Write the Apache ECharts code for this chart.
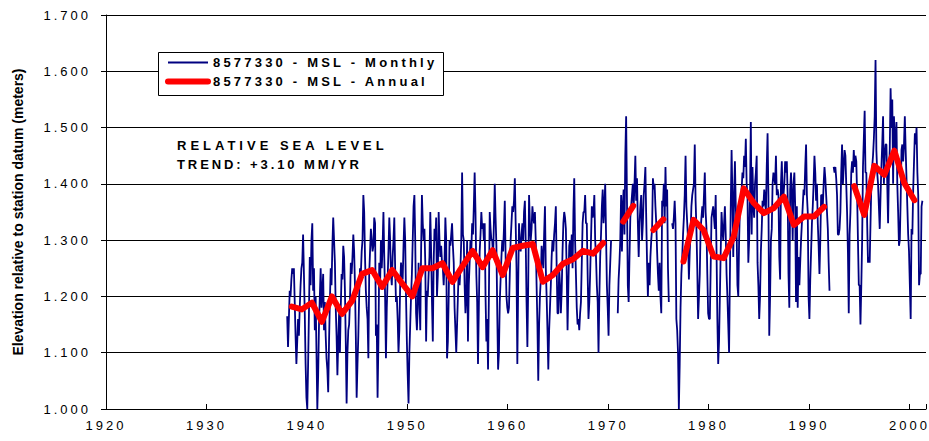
<!DOCTYPE html>
<html>
<head>
<meta charset="utf-8">
<title>8577330 - MSL</title>
<script src="https://cdn.jsdelivr.net/npm/echarts@6/dist/echarts.min.js"></script>
<style>
  html, body { margin: 0; padding: 0; background: #fff; }
  #main { width: 929px; height: 441px; }
</style>
</head>
<body>
<div id="main"></div>
<script>
// monthly MSL (m), 12 values per year from January; null = missing month
const mon1938 = [
  1.165, 1.11, 1.16, 1.21, 1.20, 1.23, 1.25, 1.24, 1.25, 1.19, 1.13, 1.08,
  1.12, 1.16, 1.13, 1.18, 1.22, 1.25, 1.26, 1.31, 1.24, 1.17, 1.08, 1.02,
  1.00, 1.08, 1.17, 1.27, 1.22, 1.30, 1.33, 1.21, 1.25, 1.14, 1.20, 1.10,
  1.00, 1.06, 1.15, 1.20, 1.25, 1.18, 1.21, 1.24, 1.14, 1.19, 1.13, 1.09,
  1.07, 1.03, 1.12, 1.19, 1.25, 1.22, 1.29, 1.34, 1.30, 1.26, 1.18, 1.13,
  1.06, 1.12, 1.17, 1.10, 1.18, 1.24, 1.23, 1.29, 1.27, 1.21, 1.12, 1.01,
  1.10, 1.14, 1.15, 1.19, 1.26, 1.24, 1.27, 1.31, 1.28, 1.22, 1.13, 1.02,
  1.08, 1.13, 1.20, 1.25, 1.24, 1.28, 1.30, 1.38, 1.35, 1.27, 1.21, 1.18,
  1.16, 1.09, 1.24, 1.28, 1.32, 1.30, 1.28, 1.29, 1.34, 1.33, 1.13, 1.15,
  1.02, 1.12, 1.26, 1.22, 1.30, 1.25, 1.29, 1.35, 1.27, 1.20, 1.09, 1.18,
  1.23, 1.28, 1.34, 1.30, 1.24, 1.22, 1.27, 1.30, 1.34, 1.25, 1.19, 1.20,
  1.16, 1.10, 1.14, 1.22, 1.26, 1.24, 1.23, 1.29, 1.34, 1.30, 1.20, 1.12
];
const mon1950 = [
  1.06, 1.01, 1.10, 1.15, 1.20, 1.24, 1.30, 1.36, 1.38, 1.30, 1.17, 1.14,
  1.18, 1.26, 1.20, 1.14, 1.28, 1.38, 1.33, 1.30, 1.32, 1.26, 1.12, 1.21,
  1.20, 1.24, 1.27, 1.35, 1.28, 1.19, 1.12, 1.26, 1.32, 1.30, 1.34, 1.20,
  1.24, 1.35, 1.30, 1.27, 1.29, 1.26, 1.25, 1.22, 1.26, 1.34, 1.30, 1.09,
  1.12, 1.20, 1.30, 1.29, 1.31, 1.33, 1.29, 1.26, 1.18, 1.14, 1.10, 1.15,
  1.20, 1.25, 1.22, 1.25, 1.30, 1.42, 1.31, 1.30, 1.22, 1.17, 1.20, 1.30,
  1.12, 1.22, 1.26, 1.30, 1.28, 1.33, 1.31, 1.36, 1.42, 1.35, 1.24, 1.19,
  1.08, 1.18, 1.28, 1.31, 1.35, 1.32, 1.33, 1.30, 1.33, 1.20, 1.12, 1.16,
  1.07, 1.20, 1.35, 1.32, 1.30, 1.30, 1.27, 1.33, 1.40, 1.34, 1.29, 1.17,
  1.07, 1.10, 1.19, 1.23, 1.27, 1.30, 1.28, 1.32, 1.37, 1.27, 1.20, 1.18
];
const mon1960 = [
  1.17, 1.18, 1.24, 1.30, 1.33, 1.36, 1.35, 1.37, 1.41, 1.33, 1.25, 1.08,
  1.22, 1.33, 1.29, 1.28, 1.31, 1.33, 1.30, 1.35, 1.37, 1.30, 1.19, 1.11,
  1.22, 1.38, 1.33, 1.30, 1.32, 1.36, 1.34, 1.33, 1.35, 1.30, 1.22, 1.15,
  1.05, 1.15, 1.20, 1.23, 1.29, 1.27, 1.25, 1.31, 1.36, 1.25, 1.20, 1.14,
  1.07, 1.14, 1.18, 1.22, 1.27, 1.30, 1.28, 1.31, 1.33, 1.36, 1.25, 1.17,
  1.17, 1.25, 1.22, 1.17, 1.21, 1.28, 1.33, 1.35, 1.34, 1.32, 1.24, 1.14,
  1.22, 1.29, 1.30, 1.27, 1.31, 1.25, 1.35, 1.41, 1.30, 1.24, 1.18, 1.15,
  1.16, 1.14, 1.17, 1.19, 1.26, 1.33, 1.35, 1.35, 1.38, 1.33, 1.33, 1.24,
  1.16, 1.19, 1.24, 1.30, 1.36, 1.34, 1.35, 1.38, 1.30, 1.27, 1.22, 1.19,
  1.10, 1.20, 1.27, 1.31, 1.36, 1.39, 1.33, 1.36, 1.40, 1.31, 1.22, 1.18
];
const mon1970 = [
  1.13, 1.22, 1.26, 1.30, null, null, null, null, null, null, null, 1.17,
  1.23, 1.26, 1.30, 1.38, 1.28, 1.36, 1.39, 1.31, 1.45, 1.52, 1.37, 1.22,
  1.19, 1.27, 1.34, 1.36, 1.38, 1.40, 1.36, 1.40, 1.45, 1.37, 1.41, 1.33,
  1.27, 1.33, 1.36, 1.38, 1.30, 1.33, 1.38, 1.40, 1.43, 1.34, 1.26, 1.20,
  1.26, 1.22, 1.27, 1.30, 1.32, 1.41, 1.39, 1.40, 1.36, 1.33, 1.28, 1.24,
  1.21, 1.26, 1.20, 1.17, 1.37, 1.36, 1.40, 1.33, 1.43, 1.36, 1.39, 1.25,
  1.19, null, null, null, 1.33, 1.32, 1.34, 1.37, 1.33, 1.16, 1.14, 1.10,
  1.00, 1.08, 1.18, 1.24, 1.27, 1.31, 1.34, 1.38, 1.45, 1.36, 1.33, 1.30,
  1.23, 1.28, 1.31, 1.36, 1.38, 1.39, 1.40, 1.47, 1.37, 1.32, 1.25, 1.16,
  1.20, 1.24, 1.32, 1.34, 1.36, 1.34, 1.38, 1.42, 1.35, 1.32, 1.24, 1.17
];
const mon1980 = [
  1.16, 1.16, 1.25, 1.34, 1.35, 1.36, 1.34, 1.32, 1.38, 1.28, 1.16, 1.08,
  1.12, 1.20, 1.28, 1.35, 1.32, 1.30, 1.33, 1.36, 1.31, 1.24, 1.20, 1.15,
  1.10, 1.24, 1.36, 1.46, 1.38, 1.27, 1.38, 1.44, 1.36, 1.32, 1.22, 1.20,
  1.30, 1.36, 1.36, 1.39, 1.42, 1.41, 1.45, 1.43, 1.48, 1.40, 1.38, 1.26,
  1.30, 1.38, 1.51, 1.31, 1.43, 1.36, 1.34, 1.40, 1.42, 1.45, 1.26, 1.22,
  1.16, 1.20, 1.28, 1.32, 1.37, 1.36, 1.39, 1.37, 1.35, 1.43, 1.49, 1.38,
  1.13, 1.20, 1.30, 1.32, 1.40, 1.42, 1.41, 1.40, 1.45, 1.38, 1.39, 1.38,
  1.27, 1.23, 1.40, 1.44, 1.38, 1.38, 1.40, 1.44, 1.42, 1.44, 1.38, 1.24,
  1.18, 1.39, 1.42, 1.38, 1.30, 1.40, 1.42, 1.36, 1.19, 1.36, 1.18, 1.27,
  1.22, 1.26, 1.30, 1.33, 1.36, 1.39, 1.38, 1.43, 1.47, 1.38, 1.35, 1.20
];
const mon1990 = [
  1.16, 1.23, 1.28, 1.33, 1.36, 1.40, 1.45, 1.42, 1.37, 1.40, 1.33, 1.29,
  1.24, 1.30, 1.38, 1.38, 1.36, 1.40, 1.43, 1.41, 1.38, 1.35, 1.32, 1.26,
  1.21, null, null, null, null, 1.43, 1.42, 1.43, 1.41, 1.38, 1.31, 1.31,
  1.32, 1.35, 1.42, 1.47, 1.40, 1.43, 1.46, 1.45, 1.40, 1.35, 1.28, 1.17,
  1.31, 1.35, 1.42, 1.44, 1.42, 1.46, 1.43, 1.45, 1.44, 1.38, 1.30, 1.22,
  1.22, 1.15, 1.22, 1.30, 1.43, 1.48, 1.53, 1.42, 1.42, 1.33, 1.26, 1.27,
  1.26, 1.33, 1.40, 1.43, 1.45, 1.48, 1.52, 1.62, 1.46, 1.42, 1.40, 1.36,
  1.32, 1.38, 1.43, 1.47, 1.52, 1.40, 1.45, 1.47, 1.47, 1.40, 1.33, 1.42,
  1.46, 1.57, 1.50, 1.55, 1.40, 1.52, 1.48, 1.46, 1.51, 1.40, 1.35, 1.29,
  1.30, 1.37, 1.46, 1.47, 1.44, 1.47, 1.52, 1.46, 1.41, 1.36, 1.31, 1.28,
  1.22, 1.16, 1.32, 1.31, 1.39, 1.44, 1.49, 1.47, 1.50, 1.42, 1.38, 1.22,
  1.24, 1.24, 1.36, 1.37
];

// annual means (m); null = year not computed
const annualYears = [
  1938, 1939, 1940, 1941, 1942, 1943, 1944, 1945, 1946, 1947,
  1948, 1949, 1950, 1951, 1952, 1953, 1954, 1955, 1956, 1957,
  1958, 1959, 1960, 1961, 1962, 1963, 1964, 1965, 1966, 1967,
  1968, 1969, 1970, 1971, 1972, 1973, 1974, 1975, 1976, 1977,
  1978, 1979, 1980, 1981, 1982, 1983, 1984, 1985, 1986, 1987,
  1988, 1989, 1990, 1991, 1992, 1993, 1994, 1995, 1996, 1997,
  1998, 1999, 2000
];
const annualMsl = [
  1.182, 1.177, 1.189, 1.155, 1.200, 1.169, 1.192, 1.240, 1.247, 1.217,
  1.247, 1.223, 1.200, 1.250, 1.250, 1.259, 1.226, 1.254, 1.281, 1.252,
  1.282, 1.238, 1.286, 1.290, 1.293, 1.226, 1.238, 1.258, 1.266, 1.281,
  1.276, 1.295, null, 1.333, 1.361, null, 1.318, 1.337, null, 1.262,
  1.336, 1.318, 1.271, 1.268, 1.306, 1.392, 1.366, 1.348, 1.357, 1.377,
  1.327, 1.342, 1.342, 1.359, null, null, 1.396, 1.345, 1.432, 1.416,
  1.459, 1.401, 1.371
];

const monthlyBlocks = [[1938, mon1938], [1950, mon1950], [1960, mon1960],
                       [1970, mon1970], [1980, mon1980], [1990, mon1990]];

const monthlyPts = [];
monthlyBlocks.forEach(function (b) {
  b[1].forEach(function (v, i) {
    monthlyPts.push([b[0] + (i + 0.5) / 12, v === null ? '-' : v]);
  });
});
const annualPts = annualYears.map(function (y, i) {
  return [y + 0.5, annualMsl[i] === null ? '-' : annualMsl[i]];
});

const FONT = 'Liberation Sans';
const BLUE = '#000080';
const RED = '#ff0000';

const chart = echarts.init(document.getElementById('main'), null, { renderer: 'svg' });

chart.setOption({
  animation: false,
  backgroundColor: '#fff',
  grid: { left: 106, right: 0, top: 15, bottom: 32 },
  xAxis: {
    type: 'value',
    min: 1920,
    max: 2001.65,
    interval: 10,
    axisLine: { lineStyle: { color: '#000', width: 1 } },
    axisTick: { inside: true, length: 5, lineStyle: { color: '#000' } },
    axisLabel: {
      margin: 10, fontSize: 13, color: '#000', fontFamily: FONT,
      formatter: function (v) { return v % 10 === 0 ? String(v) : ''; }
    },
    splitLine: { show: false }
  },
  yAxis: {
    type: 'value',
    min: 1.0,
    max: 1.7,
    interval: 0.1,
    name: 'Elevation relative to station datum (meters)',
    nameLocation: 'middle',
    nameGap: 81,
    nameTextStyle: { fontSize: 14, fontWeight: 'bold', color: '#000', fontFamily: 'Arial, ' + FONT },
    axisLine: { show: true, lineStyle: { color: '#000', width: 1 } },
    axisTick: { show: true, length: 5, lineStyle: { color: '#000' } },
    axisLabel: {
      margin: 15, fontSize: 13, color: '#000', fontFamily: FONT,
      formatter: function (v) { return v.toFixed(3); }
    },
    splitLine: { lineStyle: { color: '#000', width: 1 } }
  },
  legend: {
    orient: 'vertical',
    left: 160,
    top: 51,
    itemWidth: 40,
    itemHeight: 14,
    itemGap: 6,
    z: 10,
    textStyle: { fontSize: 13, fontWeight: 'bold', color: '#000', fontFamily: FONT },
    data: [
      { name: '8577330 - MSL - Monthly', itemStyle: { opacity: 0 },
        lineStyle: { color: BLUE, width: 2 } },
      { name: '8577330 - MSL - Annual', itemStyle: { opacity: 0 },
        lineStyle: { color: RED, width: 6, cap: 'round' } }
    ]
  },
  graphic: [
    {
      type: 'rect', z: 9,
      shape: { x: 158.5, y: 52.5, width: 285, height: 43 },
      style: { fill: '#fff', stroke: '#000', lineWidth: 1 }
    },
    {
      type: 'text', z: 9, x: 177, y: 145,
      style: { text: 'RELATIVE SEA LEVEL', fontSize: 13, fontWeight: 'bold', fontFamily: FONT, fill: '#000', verticalAlign: 'middle' }
    },
    {
      type: 'text', z: 9, x: 177, y: 164,
      style: { text: 'TREND: +3.10 MM/YR', fontSize: 13, fontWeight: 'bold', fontFamily: FONT, fill: '#000', verticalAlign: 'middle' }
    }
  ],
  series: [
    {
      name: '8577330 - MSL - Monthly',
      type: 'line',
      data: monthlyPts,
      symbol: 'none',
      connectNulls: false,
      lineStyle: { color: BLUE, width: 1.8 },
      itemStyle: { color: BLUE },
      z: 2
    },
    {
      name: '8577330 - MSL - Annual',
      type: 'line',
      data: annualPts,
      symbol: 'none',
      connectNulls: false,
      lineStyle: { color: RED, width: 6, cap: 'round', join: 'round' },
      itemStyle: { color: RED },
      z: 3
    }
  ]
});

// the original uses wide letter spacing on most labels
function spaceLetters() {
  document.querySelectorAll('#main text').forEach(function (t) {
    const s = t.textContent;
    if (s.indexOf('Elevation') === 0) return;
    let ls = 3;
    if (s.indexOf('8577330') === 0) ls = 3.2;
    if (s.indexOf('RELATIVE') === 0) ls = 4;
    if (s.indexOf('TREND') === 0) ls = 2.9;
    t.style.letterSpacing = ls + 'px';
  });
}
spaceLetters();
chart.on('finished', spaceLetters);
</script>
</body>
</html>
